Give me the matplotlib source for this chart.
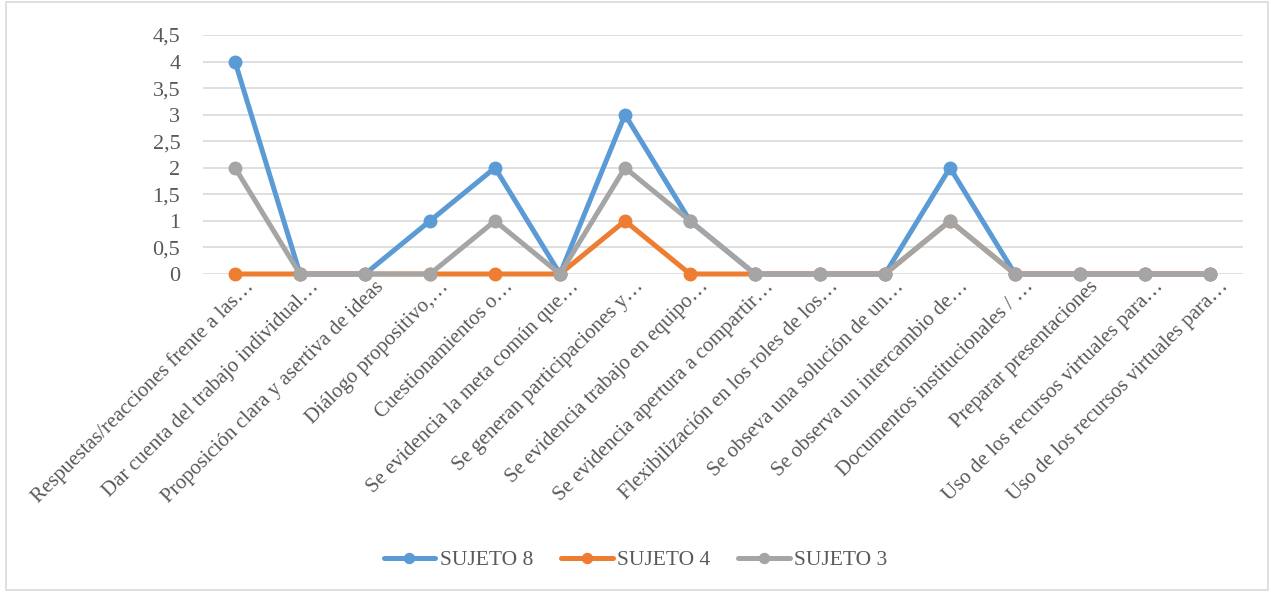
import matplotlib.pyplot as plt
from matplotlib.ticker import FuncFormatter, MultipleLocator
from matplotlib.patches import Rectangle
from matplotlib.transforms import offset_copy

categories = [
    "Respuestas/reacciones frente a las…",
    "Dar cuenta del trabajo individual…",
    "Proposición clara y asertiva de ideas",
    "Diálogo propositivo,…",
    "Cuestionamientos o…",
    "Se evidencia la meta común que…",
    "Se generan participaciones y…",
    "Se evidencia trabajo en equipo…",
    "Se evidencia apertura a compartir…",
    "Flexibilización en los roles de los…",
    "Se obseva una solución de un…",
    "Se observa un intercambio de…",
    "Documentos institucionales / …",
    "Preparar presentaciones",
    "Uso de los recursos virtuales para…",
    "Uso de los recursos virtuales para…",
]
sujeto_8 = [4, 0, 0, 1, 2, 0, 3, 1, 0, 0, 0, 2, 0, 0, 0, 0]
sujeto_4 = [0, 0, 0, 0, 0, 0, 1, 0, 0, 0, 0, 1, 0, 0, 0, 0]
sujeto_3 = [2, 0, 0, 0, 1, 0, 2, 1, 0, 0, 0, 1, 0, 0, 0, 0]

series = [("SUJETO 8", sujeto_8, "#5B9BD5"),
          ("SUJETO 4", sujeto_4, "#ED7D31"),
          ("SUJETO 3", sujeto_3, "#A5A5A5")]

plt.rcParams['font.family'] = ['Liberation Serif', 'DejaVu Serif']
text_color = "#595959"

fig = plt.figure(figsize=(12.71, 5.92), dpi=100)
ax = fig.add_axes([202.5 / 1271, 1 - 274 / 592, 1040 / 1271, 239 / 592])

x = list(range(len(categories)))
for name, vals, color in series:
    ax.plot(x, vals, color=color, lw=3.6, marker='o', markersize=9,
            solid_capstyle='round', label=name, zorder=3, clip_on=False)

ax.set_xlim(-0.5, len(categories) - 0.5)
ax.set_ylim(0, 4.5)
ax.yaxis.set_major_locator(MultipleLocator(0.5))
ax.yaxis.set_major_formatter(FuncFormatter(lambda v, p: f"{v:g}".replace('.', ',')))
ax.grid(axis='y', color='#D9D9D9', lw=1.2, zorder=0)
ax.set_axisbelow(True)
for s in ax.spines.values():
    s.set_visible(False)
ax.tick_params(axis='both', length=0, colors=text_color)
ax.tick_params(axis='y', labelsize=16, pad=16)

# category labels, rotated 45 degrees like the Excel axis
ax.set_xticks(x)
ax.set_xticklabels([])
lab_tr = offset_copy(ax.get_xaxis_transform(), fig=fig, x=16, y=-10, units='dots')
for xi, lab in zip(x, categories):
    ax.text(xi, 0, lab, transform=lab_tr, rotation=45, ha='right', va='center',
            rotation_mode='anchor', fontsize=15, color=text_color)

leg = fig.legend(loc='center', bbox_to_anchor=(0.5, 1 - 560 / 592), ncol=3,
                 frameon=False, fontsize=15.5, handlelength=2.4,
                 columnspacing=1.3, handletextpad=0.2, markerscale=0.8)
for t in leg.get_texts():
    t.set_color(text_color)

fig.patches.append(Rectangle((6 / 1271, 2 / 592), 1262 / 1271, 588 / 592,
                             transform=fig.transFigure, fill=False,
                             edgecolor='#D9D9D9', lw=1.2))

fig.savefig("out.png", dpi=100, facecolor='white')
